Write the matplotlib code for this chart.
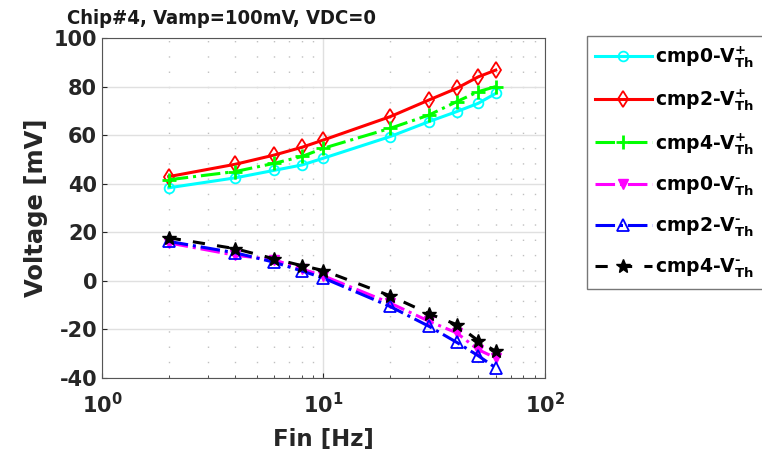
import numpy as np
import matplotlib
matplotlib.use('Agg')
import matplotlib.pyplot as plt
from matplotlib.ticker import LogLocator, NullFormatter

plt.rcParams['font.family'] = ['DejaVu Sans']
plt.rcParams['font.weight'] = 'bold'
plt.rcParams['mathtext.default'] = 'bf'
plt.rcParams['axes.unicode_minus'] = False

fin = [2, 4, 6, 8, 10, 20, 30, 40, 50, 60]

cmp0_pos = [38.3, 42.4, 45.5, 47.7, 50.5, 59.4, 65.6, 69.7, 73.1, 77.2]
cmp2_pos = [42.9, 48.0, 51.8, 55.0, 58.0, 67.6, 74.5, 79.3, 84.0, 86.8]
cmp4_pos = [41.6, 45.0, 48.4, 51.2, 54.6, 62.8, 68.3, 73.8, 77.9, 80.0]
cmp0_neg = [15.6, 10.5, 8.6, 4.8, 2.0, -9.2, -16.7, -21.5, -28.4, -31.8]
cmp2_neg = [16.2, 11.5, 7.6, 4.0, 1.1, -10.6, -18.8, -25.4, -30.9, -35.9]
cmp4_neg = [17.7, 13.2, 9.0, 6.2, 4.2, -6.2, -13.6, -18.1, -24.7, -29.1]

labels = [r'cmp0-V$_{Th}^{+}$', r'cmp2-V$_{Th}^{+}$', r'cmp4-V$_{Th}^{+}$',
          r'cmp0-V$_{Th}^{\text{-}}$', r'cmp2-V$_{Th}^{\text{-}}$', r'cmp4-V$_{Th}^{\text{-}}$']

fig = plt.figure(figsize=(7.62, 4.53), dpi=100)
ax = fig.add_axes([0.134, 0.166, 0.581, 0.750])

ax.plot(fin, cmp0_pos, '-', color='cyan', marker='o', mfc='none', ms=7, lw=2.2, mew=1.3, label=labels[0])
ax.plot(fin, cmp2_pos, '-', color='red', marker='d', mfc='none', ms=8, lw=2.2, mew=1.3, label=labels[1])
ax.plot(fin, cmp4_pos, '-.', color='#00ff00', marker='+', ms=10, lw=2.2, mew=2, label=labels[2])
ax.plot(fin, cmp0_neg, '-.', color='magenta', marker='v', ms=7, lw=2.2, label=labels[3])
ax.plot(fin, cmp2_neg, '-.', color='blue', marker='^', mfc='none', ms=9, lw=2.2, mew=1.3, label=labels[4])
ax.plot(fin, cmp4_neg, '--', color='black', marker='*', ms=10, lw=2.2, dashes=(4, 4), label=labels[5])

ax.set_xscale('log')
ax.set_xlim(1, 100)
ax.set_ylim(-40, 100)
ax.set_yticks([-40, -20, 0, 20, 40, 60, 80, 100])
ax.xaxis.set_minor_locator(LogLocator(base=10, subs=np.arange(2, 10)))
ax.xaxis.set_minor_formatter(NullFormatter())
ax.grid(True, which='major', color='#e0e0e0', lw=1)
ax.grid(True, which='minor', axis='x', color='#c0c0c0', ls=(0, (1, 10)), lw=1)
ax.tick_params(labelsize=15, colors='#262626', direction='in', which='both')
ax.tick_params(axis='x', pad=10)
ax.tick_params(which='minor', length=2)
for s in ax.spines.values():
    s.set_color('#555555')

fig.text(0.291, 0.938, 'Chip#4, Vamp=100mV, VDC=0', fontsize=14.5, fontweight='bold',
         fontstretch='condensed', color='#1a1a1a', ha='center', va='bottom')
ax.set_xlabel('Fin [Hz]', fontsize=16.5, fontweight='bold', color='#262626', labelpad=8)
ax.set_ylabel('Voltage [mV]', fontsize=17.5, fontweight='bold', color='#262626', labelpad=4)

leg = ax.legend(loc='upper left', bbox_to_anchor=(1.095, 1.007), fontsize=13.5,
                handlelength=3.0, handletextpad=0.2, labelspacing=0.95, borderpad=0.45,
                borderaxespad=0, fancybox=False, edgecolor='#555555')
leg.get_frame().set_linewidth(1)

plt.savefig('out.png', dpi=100)
